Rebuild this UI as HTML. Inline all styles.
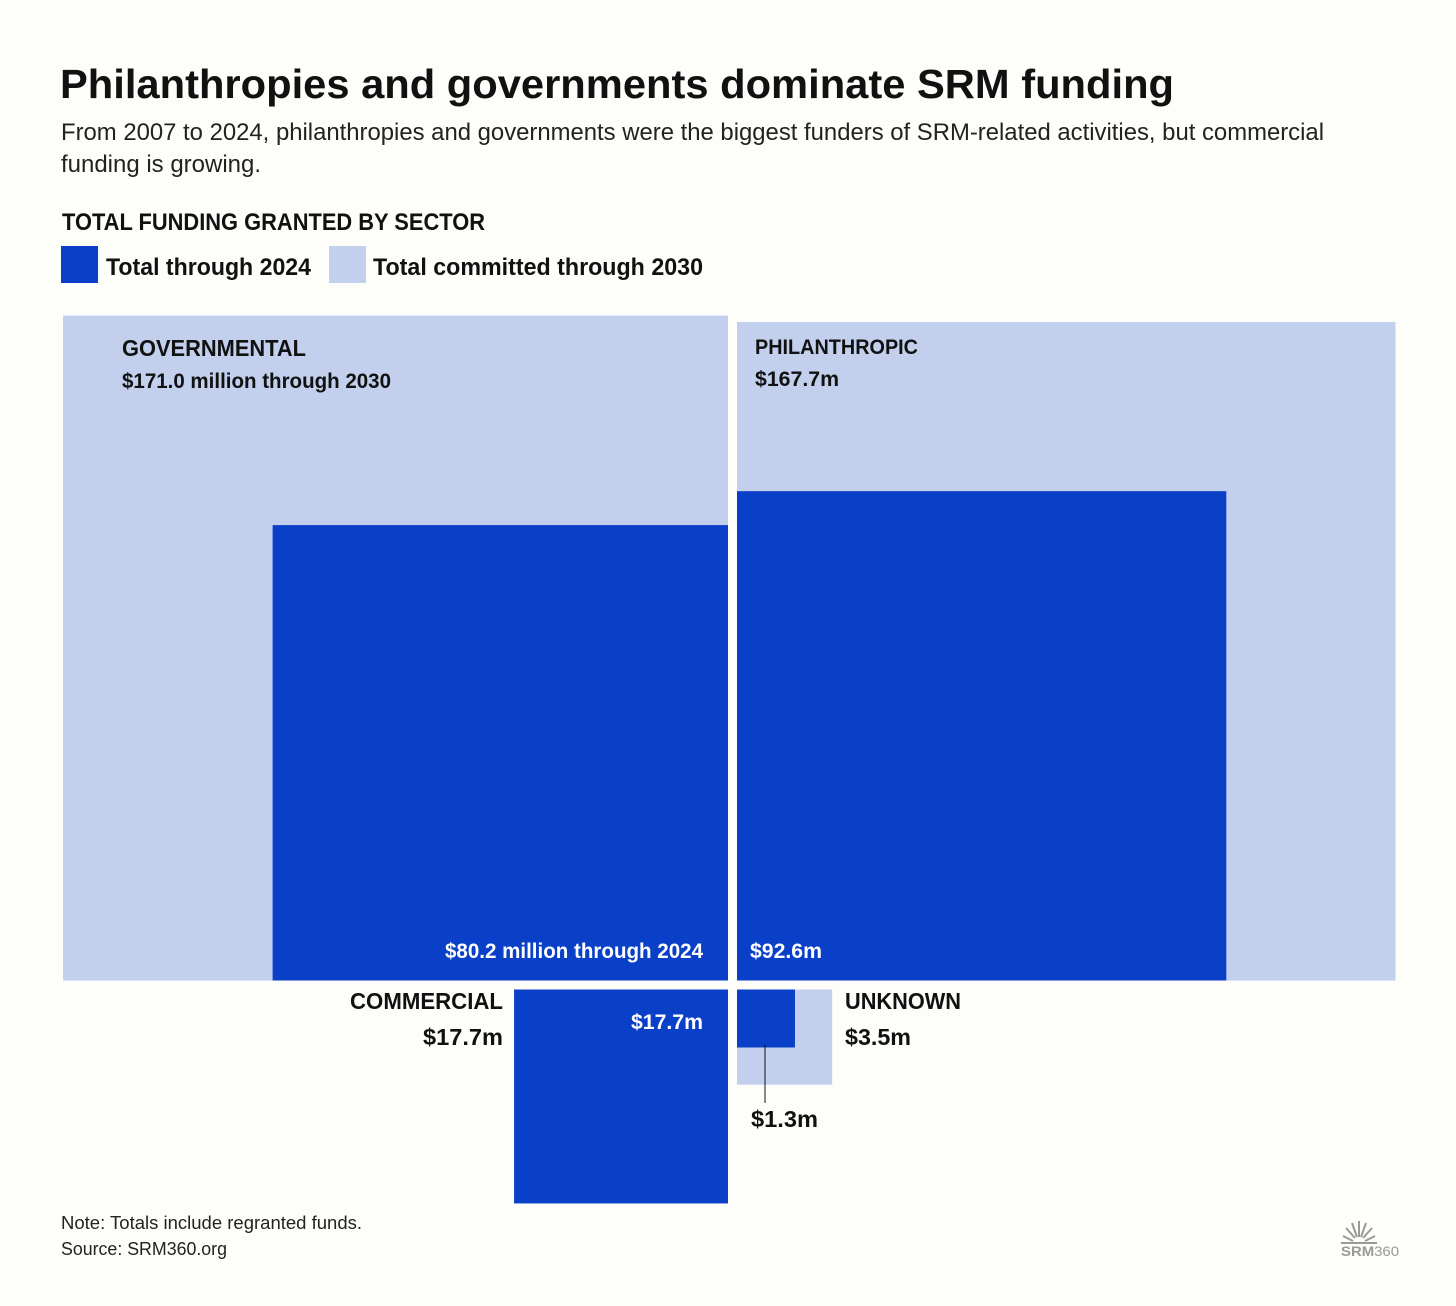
<!DOCTYPE html>
<html><head><meta charset="utf-8"><style>
html,body{margin:0;padding:0;background:#fdfdfa;}
svg{display:block;font-family:"Liberation Sans",sans-serif;}
</style></head><body>
<svg width="1456" height="1306" viewBox="0 0 1456 1306">
<rect width="1456" height="1306" fill="#fdfdfa"/>
<text x="60" y="98" font-size="41" font-weight="bold" fill="#111" textLength="1114" lengthAdjust="spacingAndGlyphs">Philanthropies and governments dominate SRM funding</text>
<text x="61" y="140" font-size="24" fill="#222" textLength="1263" lengthAdjust="spacingAndGlyphs">From 2007 to 2024, philanthropies and governments were the biggest funders of SRM-related activities, but  commercial</text>
<text x="61" y="172" font-size="24" fill="#222" textLength="200" lengthAdjust="spacingAndGlyphs">funding is growing.</text>
<text x="62" y="230" font-size="24" font-weight="bold" fill="#111" textLength="423" lengthAdjust="spacingAndGlyphs">TOTAL FUNDING GRANTED BY SECTOR</text>
<g>
<rect x="61" y="246" width="37" height="37" fill="#0a3fc8"/>
<text x="106" y="275" font-size="24" font-weight="bold" fill="#111" textLength="205" lengthAdjust="spacingAndGlyphs">Total through 2024</text>
<rect x="329" y="246" width="37" height="37" fill="#c2d0ee"/>
<text x="373" y="275" font-size="24" font-weight="bold" fill="#111" textLength="330" lengthAdjust="spacingAndGlyphs">Total committed through 2030</text>
</g>
<g id="marks"></g>
<g font-weight="bold" fill="#111">
<text x="122" y="356" font-size="23" textLength="184" lengthAdjust="spacingAndGlyphs">GOVERNMENTAL</text>
<text x="122" y="388" font-size="21" textLength="269" lengthAdjust="spacingAndGlyphs">$171.0 million through 2030</text>
<text x="755" y="354" font-size="21" textLength="163" lengthAdjust="spacingAndGlyphs">PHILANTHROPIC</text>
<text x="755" y="386" font-size="21" textLength="84" lengthAdjust="spacingAndGlyphs">$167.7m</text>
<text x="445" y="958" font-size="21" fill="#fff" textLength="258" lengthAdjust="spacingAndGlyphs">$80.2 million through 2024</text>
<text x="750" y="958" font-size="21" fill="#fff" textLength="72" lengthAdjust="spacingAndGlyphs">$92.6m</text>
<text x="350" y="1009" font-size="23" textLength="153" lengthAdjust="spacingAndGlyphs">COMMERCIAL</text>
<text x="423" y="1045" font-size="23" textLength="80" lengthAdjust="spacingAndGlyphs">$17.7m</text>
<text x="631" y="1029" font-size="21" fill="#fff" textLength="72" lengthAdjust="spacingAndGlyphs">$17.7m</text>
<text x="845" y="1009" font-size="23" textLength="116" lengthAdjust="spacingAndGlyphs">UNKNOWN</text>
<text x="845" y="1045" font-size="23" textLength="66" lengthAdjust="spacingAndGlyphs">$3.5m</text>
<line x1="765" y1="1045" x2="765" y2="1103" stroke="#111" stroke-width="1"/>
<text x="751" y="1127" font-size="23" textLength="67" lengthAdjust="spacingAndGlyphs">$1.3m</text>
</g>
<text x="61" y="1229" font-size="18" fill="#222" textLength="301" lengthAdjust="spacingAndGlyphs">Note: Totals include regranted funds.</text>
<text x="61" y="1255" font-size="18" fill="#222" textLength="166" lengthAdjust="spacingAndGlyphs">Source: SRM360.org</text>
<g fill="#999" stroke="#999">
<g stroke-width="2"><line x1="1343" y1="1236" x2="1353" y2="1241"/><line x1="1346" y1="1228" x2="1355" y2="1238"/><line x1="1352" y1="1223" x2="1357" y2="1237"/><line x1="1359" y1="1221" x2="1359" y2="1237"/><line x1="1366" y1="1223" x2="1361" y2="1237"/><line x1="1372" y1="1228" x2="1363" y2="1238"/><line x1="1375" y1="1236" x2="1365" y2="1241"/></g>
<line x1="1341" y1="1243" x2="1377" y2="1243" stroke-width="2"/>
<text x="1341" y="1256" font-size="14" font-weight="bold" stroke="none" textLength="58" lengthAdjust="spacingAndGlyphs">SRM<tspan font-weight="normal">360</tspan></text>
</g>
</svg>
<script>
const sectors = ['governmental','philanthropic','commercial','unknown'];
const total2030 = [171.0, 167.7, 17.7, 3.5];
const total2024 = [80.2, 92.6, 17.7, 1.3];
const cx = 732.5, cy = 985, gap = 4.5;
const k = 50.85;
function side(v){ return Math.sqrt(v) * k; }
// quadrant: 0 top-left, 1 top-right, 2 bottom-left, 3 bottom-right
function place(q, s){
  const left = (q === 0 || q === 2);
  const top = (q === 0 || q === 1);
  return { x: left ? cx - gap - s : cx + gap, y: top ? cy - gap - s : cy + gap, w: s, h: s };
}
const g = document.getElementById('marks');
const NS = 'http://www.w3.org/2000/svg';
function addRect(r, fill, name){
  const el = document.createElementNS(NS, 'rect');
  el.setAttribute('x', r.x); el.setAttribute('y', r.y);
  el.setAttribute('width', r.w); el.setAttribute('height', r.h);
  el.setAttribute('fill', fill);
  
  
  g.appendChild(el);
}
sectors.forEach((s, i) => {
  addRect(place(i, side(total2030[i])), '#c2d0ee', 'square-' + s + '-2030');
  addRect(place(i, side(total2024[i])), '#0a3fc8', 'square-' + s + '-2024');
});
</script>
</body></html>
